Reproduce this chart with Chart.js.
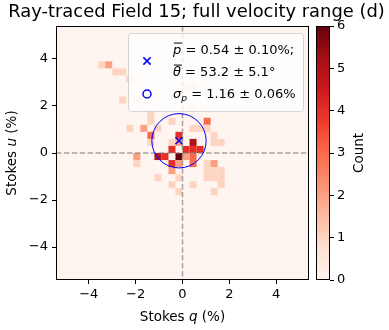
<!DOCTYPE html>
<html>
<head>
<meta charset="utf-8">
<script src="https://cdn.jsdelivr.net/npm/chart.js@4.4.0/dist/chart.umd.min.js"></script>
<style>
  html, body { margin: 0; padding: 0; background: #fff; }
  #wrap { position: relative; width: 389px; height: 330px; }
  #wrap canvas { position: absolute; left: 0; top: 0; }
</style>
</head>
<body>
<div id="wrap">
  <canvas id="mainChart" width="389" height="330"></canvas>
  <canvas id="cbarChart" width="389" height="330"></canvas>
</div>
<script>
// Histogram 2D (q, u) - centres dels bins i recomptes
const binWidth = 0.3;
const axisMin = -5.4;
const axisMax = 5.4;
const qCenters = [-3.45, -3.15, -2.85, -2.55, -2.25, -2.55, -1.95, 0.15, 0.45, 0.45,
  -1.35, -1.35, -0.45, 1.05,
  -2.25, -1.65, -1.05, 0.45, 0.75, 1.05,
  -1.35, -0.15, 1.35,
  -1.35, -0.45, -0.15, 0.45, 1.35, 1.65,
  -0.45, 0.15, 0.45, 0.75,
  -1.95, -1.05, -0.75, -0.15, 0.15, 0.45,
  -1.95, -0.45, -0.15, 0.45, 1.05, 1.35,
  -0.45, 1.05, 1.35, 1.65,
  -1.05, -0.15, 1.05, 1.35, 1.65,
  -0.45, 0.45, 1.65,
  -0.15, 1.35];
const uCenters = [3.75, 3.75, 3.45, 3.45, 3.15, 2.25, 2.25, 2.85, 2.85, 1.95,
  1.65, 1.35, 1.35, 1.35,
  1.05, 1.05, 1.05, 1.05, 1.05, 1.05,
  0.75, 0.75, 0.75,
  0.45, 0.45, 0.45, 0.45, 0.45, 0.45,
  0.15, 0.15, 0.15, 0.15,
  -0.15, -0.15, -0.15, -0.15, -0.15, -0.15,
  -0.45, -0.45, -0.45, -0.45, -0.45, -0.45,
  -0.75, -0.75, -0.75, -0.75,
  -1.05, -1.05, -1.05, -1.05, -1.05,
  -1.35, -1.35, -1.35,
  -1.65, -1.65];
const counts = [1, 2, 1, 1, 1, 1, 1, 1, 1, 1,
  1, 1, 1, 3,
  1, 2, 1, 1, 1, 1,
  3, 4, 1,
  1, 1, 2, 5, 1, 1,
  4, 4, 4, 4,
  2, 5, 4, 6, 2, 3,
  1, 4, 2, 3, 1, 2,
  2, 1, 1, 1,
  1, 1, 1, 1, 1,
  1, 1, 1,
  1, 1];

const xTicks = [-4, -2, 0, 2, 4];
const yTicks = [-4, -2, 0, 2, 4];
const cbarTicks = [0, 1, 2, 3, 4, 5, 6];
const cbarMax = 6;

// Polarització mitjana i dispersió
const meanQ = -0.15;
const meanU = 0.52;
const sigmaP = 1.16;

const titleText = 'Ray-traced Field 15; full velocity range (d)';
const legendRows = [
  [['p', 'o'], [' = 0.54 \u00b1 0.10%;', 'n']],
  [['\u03b8', 'o'], [' = 53.2 \u00b1 5.1\u00b0', 'n']],
  [['\u03c3', 'i'], ['p', 's'], [' = 1.16 \u00b1 0.06%', 'n']]
];

const fontFamily = "'DejaVu Sans', sans-serif";
const redsStops = ['#fff5f0', '#fee0d2', '#fcbba1', '#fc9272', '#fb6a4a', '#ef3b2c', '#cb181d', '#a50f15', '#67000d'];

function hexToRgb(h) {
  return [parseInt(h.slice(1, 3), 16), parseInt(h.slice(3, 5), 16), parseInt(h.slice(5, 7), 16)];
}

// Mapa de colors "Reds" (interpolació lineal)
function reds(t) {
  t = Math.max(0, Math.min(1, t));
  const pos = t * (redsStops.length - 1);
  const k = Math.min(Math.floor(pos), redsStops.length - 2);
  const f = pos - k;
  const a = hexToRgb(redsStops[k]);
  const b = hexToRgb(redsStops[k + 1]);
  const c = a.map((v, n) => Math.round(v + (b[n] - v) * f));
  return 'rgb(' + c.join(',') + ')';
}

function fmtTick(v) {
  return v < 0 ? '\u2212' + Math.abs(v) : String(v);
}

// Text amb trossos en cursiva, subíndex o ratlla superior
function drawRich(ctx, segs, x, y, size, measureOnly) {
  let cx = x;
  for (const [t, st] of segs) {
    const sz = st === 's' ? size * 0.7 : size;
    ctx.font = (st === 'n' ? '' : 'italic ') + sz + 'px ' + fontFamily;
    const w = ctx.measureText(t).width;
    if (!measureOnly) {
      const dy = st === 's' ? size * 0.22 : 0;
      ctx.fillText(t, cx, y + dy);
      if (st === 'o') {
        ctx.beginPath();
        ctx.lineWidth = 1;
        ctx.moveTo(cx + 1, y - size * 0.84);
        ctx.lineTo(cx + w + 1, y - size * 0.84);
        ctx.stroke();
      }
    }
    cx += w;
  }
  return cx - x;
}

const heatmapPlugin = {
  id: 'heatmap',
  beforeDraw(chart) {
    const { ctx, chartArea, scales } = chart;
    const xs = scales.x, ys = scales.y;
    ctx.save();
    ctx.fillStyle = reds(0);
    ctx.fillRect(chartArea.left, chartArea.top, chartArea.right - chartArea.left, chartArea.bottom - chartArea.top);
    for (let n = 0; n < counts.length; n++) {
      const x0 = xs.getPixelForValue(qCenters[n] - binWidth / 2);
      const x1 = xs.getPixelForValue(qCenters[n] + binWidth / 2);
      const y0 = ys.getPixelForValue(uCenters[n] + binWidth / 2);
      const y1 = ys.getPixelForValue(uCenters[n] - binWidth / 2);
      ctx.fillStyle = reds(counts[n] / cbarMax);
      ctx.fillRect(x0, y0, x1 - x0, y1 - y0);
    }
    // línies discontínues a zero
    ctx.strokeStyle = 'rgba(128,128,128,0.7)';
    ctx.lineWidth = 1.5;
    ctx.setLineDash([5.5, 2.4]);
    const zx = xs.getPixelForValue(0), zy = ys.getPixelForValue(0);
    ctx.beginPath();
    ctx.moveTo(zx, chartArea.top);
    ctx.lineTo(zx, chartArea.bottom);
    ctx.moveTo(chartArea.left, zy);
    ctx.lineTo(chartArea.right, zy);
    ctx.stroke();
    ctx.restore();
  },
  afterDatasetsDraw(chart) {
    const { ctx, scales } = chart;
    const cx = scales.x.getPixelForValue(meanQ);
    const cy = scales.y.getPixelForValue(meanU);
    const r = scales.x.getPixelForValue(meanQ + sigmaP) - cx;
    ctx.save();
    ctx.strokeStyle = '#0000ff';
    ctx.lineWidth = 1;
    ctx.beginPath();
    ctx.arc(cx, cy, r, 0, Math.PI * 2);
    ctx.stroke();
    ctx.restore();
  },
  afterDraw(chart) {
    const { ctx, chartArea } = chart;
    ctx.save();
    // marc dels eixos
    ctx.strokeStyle = '#000';
    ctx.lineWidth = 1;
    ctx.strokeRect(chartArea.left + 0.5, chartArea.top + 0.5, chartArea.right - chartArea.left - 1, chartArea.bottom - chartArea.top - 1);

    // títol, ajustat a l'amplada del de referència
    ctx.fillStyle = '#000';
    ctx.textAlign = 'center';
    ctx.textBaseline = 'middle';
    ctx.font = '15px ' + fontFamily;
    const tSize = 15 * 377 / ctx.measureText(titleText).width;
    ctx.font = tSize + 'px ' + fontFamily;
    ctx.fillText(titleText, 196.5, 12.5);

    // llegenda
    const L = chartArea.right - 181, T = chartArea.top + 7, W = 175, H = 78;
    ctx.fillStyle = 'rgba(255,255,255,0.8)';
    ctx.strokeStyle = 'rgba(204,204,204,0.8)';
    ctx.beginPath();
    ctx.roundRect(L + 0.5, T + 0.5, W, H, 3);
    ctx.fill();
    ctx.stroke();

    ctx.strokeStyle = '#0000ff';
    ctx.lineWidth = 1.5;
    const mx = L + 19, my = T + 28, d = 3.6;
    ctx.beginPath();
    ctx.moveTo(mx - d, my - d); ctx.lineTo(mx + d, my + d);
    ctx.moveTo(mx - d, my + d); ctx.lineTo(mx + d, my - d);
    ctx.stroke();
    ctx.beginPath();
    ctx.arc(mx, T + 61, 4, 0, Math.PI * 2);
    ctx.stroke();

    ctx.fillStyle = '#000';
    ctx.strokeStyle = '#000';
    ctx.textBaseline = 'alphabetic';
    ctx.textAlign = 'left';
    const baselines = [T + 21, T + 43, T + 65];
    legendRows.forEach((row, k) => drawRich(ctx, row, L + 45, baselines[k], 13));

    // títols dels eixos
    const xLab = [['Stokes ', 'n'], ['q', 'i'], [' (%)', 'n']];
    const yLab = [['Stokes ', 'n'], ['u', 'i'], [' (%)', 'n']];
    const midX = (chartArea.left + chartArea.right) / 2;
    const midY = (chartArea.top + chartArea.bottom) / 2;
    ctx.textBaseline = 'middle';
    let w = drawRich(ctx, xLab, 0, 0, 13.5, true);
    drawRich(ctx, xLab, midX - w / 2, 317, 13.5);
    ctx.translate(12, midY);
    ctx.rotate(-Math.PI / 2);
    w = drawRich(ctx, yLab, 0, 0, 13.5, true);
    drawRich(ctx, yLab, -w / 2, 0, 13.5);
    ctx.restore();
  }
};

const tickFont = { family: fontFamily, size: 13 };

new Chart(document.getElementById('mainChart'), {
  type: 'scatter',
  data: {
    datasets: [{
      data: [{ x: meanQ, y: meanU }],
      pointStyle: 'crossRot',
      pointRadius: 5,
      borderColor: '#0000ff',
      backgroundColor: '#0000ff',
      borderWidth: 1.5
    }]
  },
  options: {
    responsive: false,
    animation: false,
    layout: { padding: { left: 0, right: 80, top: 26, bottom: 0 } },
    plugins: {
      legend: { display: false },
      tooltip: { enabled: false },
      title: { display: false }
    },
    scales: {
      x: {
        type: 'linear',
        min: axisMin,
        max: axisMax,
        afterBuildTicks: (s) => { s.ticks = xTicks.map(v => ({ value: v })); },
        afterFit: (s) => { s.height = 50; },
        grid: { drawOnChartArea: false, tickLength: 4, color: '#000' },
        border: { display: false },
        ticks: { font: tickFont, color: '#000', padding: 3, maxRotation: 0, callback: fmtTick }
      },
      y: {
        type: 'linear',
        min: axisMin,
        max: axisMax,
        afterBuildTicks: (s) => { s.ticks = yTicks.map(v => ({ value: v })); },
        afterFit: (s) => { s.width = 56; },
        grid: { drawOnChartArea: false, tickLength: 4, color: '#000' },
        border: { display: false },
        ticks: { font: tickFont, color: '#000', padding: 4, callback: fmtTick }
      }
    }
  },
  plugins: [heatmapPlugin]
});

// Barra de colors
const cbarPlugin = {
  id: 'cbar',
  beforeDraw(chart) {
    const { ctx, chartArea } = chart;
    const g = ctx.createLinearGradient(0, chartArea.bottom, 0, chartArea.top);
    redsStops.forEach((c, k) => g.addColorStop(k / (redsStops.length - 1), c));
    ctx.save();
    ctx.fillStyle = g;
    ctx.fillRect(chartArea.left, chartArea.top, chartArea.right - chartArea.left, chartArea.bottom - chartArea.top);
    ctx.restore();
  },
  afterDraw(chart) {
    const { ctx, chartArea } = chart;
    ctx.save();
    ctx.strokeStyle = '#000';
    ctx.lineWidth = 1;
    ctx.strokeRect(chartArea.left + 0.5, chartArea.top + 0.5, chartArea.right - chartArea.left - 1, chartArea.bottom - chartArea.top - 1);
    ctx.fillStyle = '#000';
    ctx.font = '13.5px ' + fontFamily;
    ctx.textAlign = 'center';
    ctx.textBaseline = 'middle';
    ctx.translate(359, (chartArea.top + chartArea.bottom) / 2);
    ctx.rotate(-Math.PI / 2);
    ctx.fillText('Count', 0, 0);
    ctx.restore();
  }
};

new Chart(document.getElementById('cbarChart'), {
  type: 'scatter',
  data: { datasets: [] },
  options: {
    responsive: false,
    animation: false,
    layout: { padding: { left: 316, right: 15, top: 26, bottom: 50 } },
    plugins: { legend: { display: false }, tooltip: { enabled: false } },
    scales: {
      x: { display: false, min: 0, max: 1 },
      y: {
        position: 'right',
        min: 0,
        max: cbarMax,
        afterBuildTicks: (s) => { s.ticks = cbarTicks.map(v => ({ value: v })); },
        afterFit: (s) => { s.width = 44; },
        grid: { drawOnChartArea: false, tickLength: 4, color: '#000' },
        border: { display: false },
        ticks: { font: tickFont, color: '#000', padding: 3 }
      }
    }
  },
  plugins: [cbarPlugin]
});
</script>
</body>
</html>
